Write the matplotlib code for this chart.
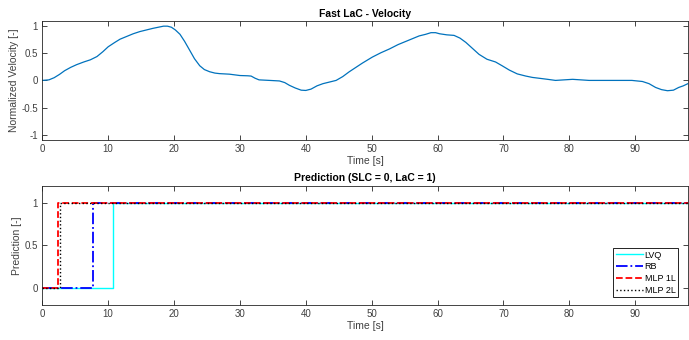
import matplotlib.pyplot as plt

plt.rcParams['font.family'] = ['Liberation Sans', 'DejaVu Sans']

# velocity data
vel_t = [0, 1, 1.8, 2.6, 3.4, 4.3, 5.2, 6.3, 7.3, 8.3, 9.2, 10, 11, 11.8, 12.8, 13.8,
         14.8, 15.8, 16.8, 17.6, 18.4, 19.0, 19.6, 20.2, 20.9, 21.6, 22.4, 23.1, 23.9,
         24.6, 25.4, 26.2, 26.9, 28.4, 30, 31.2, 31.7, 32.3, 32.9, 34.5, 36, 36.8, 37.5,
         38.4, 39.3, 40, 40.8, 41.7, 42.6, 43.6, 44.6, 45.6, 46.6, 47.6, 48.6, 50.1, 51.4,
         52.7, 54, 55.2, 56.2, 57.2, 58.2, 59, 59.7, 60.3, 61.4, 62.5, 63.4, 64.3, 65.3,
         66.3, 67.5, 68.8, 69.8, 70.9, 72.1, 73.4, 74.4, 75.4, 76.7, 77.9, 80.5, 83, 86,
         89.5, 90.3, 91.1, 92.1, 93.1, 94, 94.9, 95.8, 96.6, 97.3, 98]
vel_v = [0, 0.01, 0.05, 0.11, 0.18, 0.24, 0.29, 0.34, 0.38, 0.44, 0.53, 0.62, 0.7, 0.76,
         0.81, 0.86, 0.9, 0.93, 0.96, 0.98, 1.0, 1.0, 0.98, 0.93, 0.85, 0.72, 0.55, 0.4,
         0.27, 0.2, 0.16, 0.135, 0.125, 0.115, 0.09, 0.085, 0.08, 0.04, 0.01, 0.0, -0.01,
         -0.04, -0.09, -0.14, -0.18, -0.185, -0.16, -0.1, -0.06, -0.03, 0.0, 0.07, 0.16,
         0.24, 0.32, 0.43, 0.51, 0.58, 0.66, 0.72, 0.77, 0.82, 0.85, 0.88, 0.88, 0.86,
         0.84, 0.83, 0.78, 0.7, 0.59, 0.48, 0.39, 0.34, 0.27, 0.19, 0.12, 0.08, 0.055,
         0.04, 0.02, 0.0, 0.02, 0.0, 0.0, 0.0, -0.01, -0.02, -0.06, -0.13, -0.17, -0.19,
         -0.18, -0.13, -0.1, -0.06]

# predictions: switching times from 0 to 1
t_end = 98
lvq_t = [0, 10.8, t_end]
lvq_y = [0, 1, 1]
rb_t = [0, 7.7, t_end]
rb_y = [0, 1, 1]
mlp1_t = [0, 2.4, t_end]
mlp1_y = [0, 1, 1]
mlp2_t = [0, 2.7, t_end]
mlp2_y = [0, 1, 1]

fig = plt.figure(figsize=(6.89, 3.4), dpi=100)
ax1 = fig.add_axes([0.0614, 0.588, 0.937, 0.351])
ax2 = fig.add_axes([0.0614, 0.103, 0.937, 0.351])

ax1.plot(vel_t, vel_v, color='#0072BD', lw=0.9)
ax1.set_ylim(-1.1, 1.1)
ax1.set_yticks([-1, -0.5, 0, 0.5, 1])
ax1.set_yticklabels(['-1', '-0.5', '0', '0.5', '1'])
ax1.set_title('Fast LaC - Velocity', fontsize=7.5, fontweight='bold', pad=3)
ax1.set_ylabel('Normalized Velocity [-]', fontsize=7.5, color='#404040', labelpad=2)

ax2.plot(lvq_t, lvq_y, color='cyan', lw=1, drawstyle='steps-post', label='LVQ')
ax2.plot(rb_t, rb_y, color='blue', lw=1.3, ls='-.', drawstyle='steps-post', label='RB')
ax2.plot(mlp1_t, mlp1_y, color='red', lw=1.3, ls='--', drawstyle='steps-post', label='MLP 1L')
ax2.plot(mlp2_t, mlp2_y, color='black', lw=1, ls=':', drawstyle='steps-post', label='MLP 2L')
ax2.set_ylim(-0.2, 1.2)
ax2.set_yticks([0, 0.5, 1])
ax2.set_yticklabels(['0', '0.5', '1'])
ax2.set_title('Prediction (SLC = 0, LaC = 1)', fontsize=7.5, fontweight='bold', pad=3)
ax2.set_ylabel('Prediction [-]', fontsize=7.5, color='#404040', labelpad=2)
leg = ax2.legend(loc='lower right', fontsize=6.5, handlelength=3.0, handletextpad=0.2,
                 labelspacing=0.3, borderpad=0.3, fancybox=False, framealpha=1,
                 bbox_to_anchor=(0.992, 0.025))
leg.get_frame().set_edgecolor('black')
leg.get_frame().set_linewidth(0.6)

for ax in (ax1, ax2):
    ax.set_xlim(0, 98)
    ax.set_xticks(range(0, 100, 10))
    ax.set_xlabel('Time [s]', fontsize=7.5, color='#404040', labelpad=1)
    ax.tick_params(direction='in', top=True, right=True, length=3.5, width=0.6,
                   labelsize=7, colors='#262626', labelcolor='#404040', pad=3)
    for s in ax.spines.values():
        s.set_color('#262626')
        s.set_linewidth(0.6)

plt.savefig('out.png', dpi=100)
